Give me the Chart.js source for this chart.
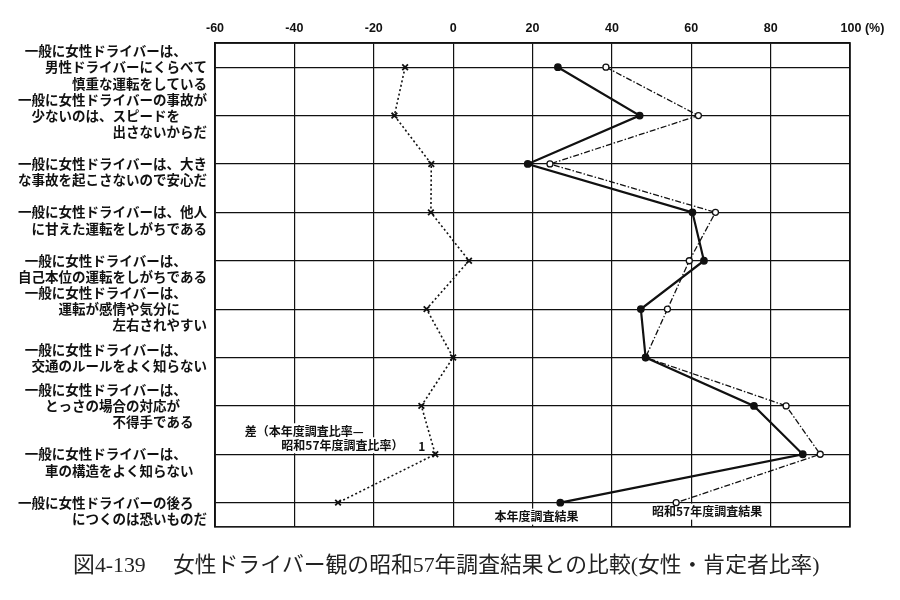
<!DOCTYPE html>
<html lang="ja">
<head>
<meta charset="utf-8">
<title>女性ドライバー観の昭和57年調査結果との比較</title>
<script src="https://cdn.jsdelivr.net/npm/chart.js@4.4.1/dist/chart.umd.min.js"></script>
<style>
  html, body { margin: 0; padding: 0; background: #fff; }
</style>
</head>
<body>
<canvas id="driverChart" width="900" height="600"></canvas>
<script>
// 設問（行ごとの改行は元の図に合わせる）
const questions = [
  ['一般に女性ドライバーは、　　', '男性ドライバーにくらべて', '慎重な運転をしている'],
  ['一般に女性ドライバーの事故が', '少ないのは、スピードを　　', '出さないからだ'],
  ['', '一般に女性ドライバーは、大き', 'な事故を起こさないので安心だ'],
  ['', '一般に女性ドライバーは、他人', 'に甘えた運転をしがちである'],
  ['', '一般に女性ドライバーは、　　', '自己本位の運転をしがちである'],
  ['一般に女性ドライバーは、　　', '運転が感情や気分に　　', '左右されやすい'],
  ['一般に女性ドライバーは、　　', '交通のルールをよく知らない'],
  ['一般に女性ドライバーは、　　', 'とっさの場合の対応が　　', '不得手である　'],
  ['', '一般に女性ドライバーは、　　', '車の構造をよく知らない　'],
  ['', '一般に女性ドライバーの後ろ　', 'につくのは恐いものだ'],
];

// 肯定者比率 (%)
const currentRates = [26.4, 47.0, 18.8, 60.3, 63.2, 47.3, 48.5, 75.8, 88.1, 27.0];
const showa57Rates = [38.5, 61.8, 24.4, 66.1, 59.5, 54.0, 48.5, 83.9, 92.5, 56.2];
const diffRates = [-12.1, -14.8, -5.5, -5.6, 4.0, -6.7, 0.0, -8.0, -4.5, -29.0];

const xTicks = [-60, -40, -20, 0, 20, 40, 60, 80, 100];

const INK = '#111';
const jpFont = "'Noto Sans CJK JP', 'Noto Sans', sans-serif";

// 枠線と図中の注記
const notesPlugin = {
  id: 'notes',
  beforeDatasetsDraw(chart) {
    const { ctx, chartArea: a, scales } = chart;
    const x = scales.x;
    const y = scales.y;
    ctx.save();
    ctx.strokeStyle = INK;
    ctx.lineWidth = 1.6;
    ctx.strokeRect(a.left, a.top, a.right - a.left, a.bottom - a.top);

    ctx.font = `bold 12px ${jpFont}`;
    ctx.textBaseline = 'middle';

    const note = (text, xv, yPix, align) => {
      ctx.textAlign = align;
      const w = ctx.measureText(text).width;
      const px = x.getPixelForValue(xv);
      const left = align === 'center' ? px - w / 2 : align === 'right' ? px - w : px;
      ctx.fillStyle = '#fff';
      ctx.fillRect(left - 2, yPix - 8, w + 4, 16);
      ctx.fillStyle = INK;
      ctx.fillText(text, px, yPix);
    };

    const row9 = y.getPixelForValue(8);
    const row10 = y.getPixelForValue(9);
    note('差（本年度調査比率—', -52.5, row9 - 23, 'left');
    note('昭和57年度調査比率）', -12.5, row9 - 9, 'right');
    ctx.fillText('1', x.getPixelForValue(-7), row9 - 8);
    note('本年度調査結果', 21, row10 + 14, 'center');
    note('昭和57年度調査結果', 64, row10 + 9, 'center');
    ctx.restore();
  },
};

new Chart(document.getElementById('driverChart'), {
  type: 'line',
  data: {
    labels: questions,
    datasets: [
      {
        label: '本年度調査結果',
        data: currentRates,
        borderColor: INK,
        borderWidth: 2.2,
        pointStyle: 'circle',
        pointRadius: 2.8,
        pointBackgroundColor: INK,
        pointBorderColor: INK,
      },
      {
        label: '昭和57年度調査結果',
        data: showa57Rates,
        borderColor: INK,
        borderWidth: 1.3,
        borderDash: [6, 2, 1.5, 2],
        pointStyle: 'circle',
        pointRadius: 3,
        pointBorderWidth: 1.3,
        pointBackgroundColor: '#fff',
        pointBorderColor: INK,
      },
      {
        label: '差（本年度調査比率—昭和57年度調査比率）',
        data: diffRates,
        borderColor: INK,
        borderWidth: 1.6,
        borderDash: [2, 2.5],
        pointStyle: 'crossRot',
        pointRadius: 4,
        pointBorderWidth: 1.8,
        pointBorderColor: INK,
      },
    ],
  },
  options: {
    indexAxis: 'y',
    responsive: false,
    animation: false,
    layout: { padding: { left: 10, right: 50, top: 10, bottom: 0 } },
    plugins: {
      legend: { display: false },
      tooltip: { enabled: false },
      title: {
        display: true,
        position: 'bottom',
        text: '\u2003\u2002図4-139　 女性ドライバー観の昭和57年調査結果との比較(女性・肯定者比率)',
        color: '#222',
        font: { family: "'Liberation Serif', 'Noto Sans CJK JP', serif", size: 21.8, weight: 'normal' },
        padding: { top: 26, bottom: 21 },
      },
    },
    scales: {
      x: {
        type: 'linear',
        position: 'top',
        min: -60,
        max: 100,
        afterBuildTicks: (s) => { s.ticks = xTicks.map((v) => ({ value: v })); },
        afterFit: (s) => { s.height = 33; },
        grid: { color: INK, lineWidth: 1.2, drawTicks: false },
        border: { display: true, color: INK, width: 1.6 },
        ticks: {
          padding: 7,
          color: INK,
          font: { family: "'Liberation Sans', sans-serif", size: 12.5, weight: 'bold' },
          callback: (v) => (v === 100 ? '\u2003\u2003100 (%)' : String(v)),
        },
      },
      y: {
        type: 'category',
        offset: true,
        afterFit: (s) => { s.width = 205; },
        grid: { offset: false, color: INK, lineWidth: 1.2, drawTicks: false },
        border: { display: true, color: INK, width: 1.6 },
        ticks: {
          autoSkip: false,
          padding: 8,
          color: INK,
          font: { family: jpFont, size: 13.5, weight: 'bold', lineHeight: 1.2 },
        },
      },
    },
  },
  plugins: [notesPlugin],
});
</script>
</body>
</html>
